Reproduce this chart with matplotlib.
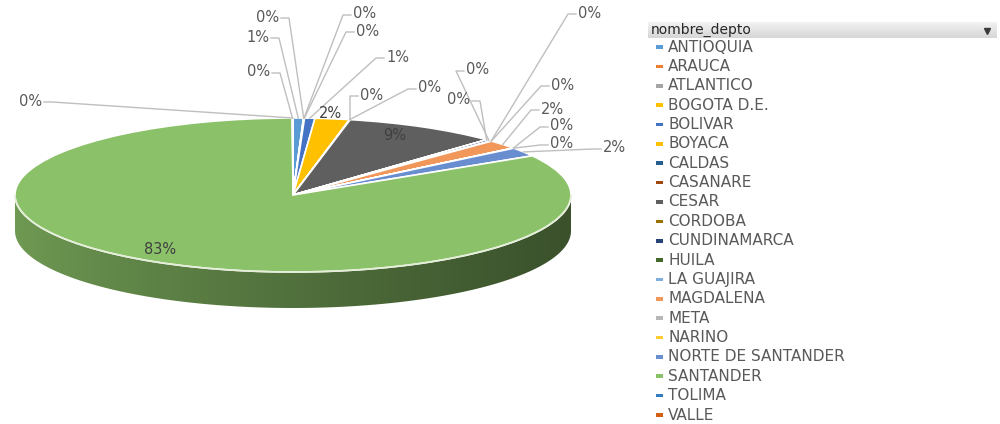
import numpy as np
import matplotlib.pyplot as plt
from matplotlib.patches import Polygon, Rectangle
from matplotlib.colors import to_rgb

deptos = ['ANTIOQUIA', 'ARAUCA', 'ATLANTICO', 'BOGOTA D.E.', 'BOLIVAR', 'BOYACA',
          'CALDAS', 'CASANARE', 'CESAR', 'CORDOBA', 'CUNDINAMARCA', 'HUILA',
          'LA GUAJIRA', 'MAGDALENA', 'META', 'NARINO', 'NORTE DE SANTANDER',
          'SANTANDER', 'TOLIMA', 'VALLE']
porcentaje = [0.60, 0.02, 0.02, 0.02, 0.60, 2.00,
              0.02, 0.02, 8.95, 0.02, 0.35, 0.02,
              0.02, 1.90, 0.02, 0.02, 1.90,
              83.46, 0.02, 0.02]
colores = ['#5B9BD5', '#ED7D31', '#A5A5A5', '#FFC000', '#4472C4', '#FFC000',
           '#255E91', '#9E480E', '#5F5F5F', '#997300', '#264478', '#43682B',
           '#7CAFDD', '#F1975A', '#B7B7B7', '#FFCD33', '#698ED0',
           '#8BC168', '#327DC2', '#D26012']

# label anchors in pixels: (x, y, side)  L = text left of anchor, R = right, C = on the slice
etiquetas_pos = [(269, 37, 'L'), (279, 17, 'L'), (353, 14, 'R'), (356, 31, 'R'),
                 (386, 57, 'R'), (330, 113, 'C'), (418, 88, 'R'), (360, 95, 'R'),
                 (395, 135, 'C'), (470, 100, 'L'), (466, 70, 'R'), (578, 13, 'R'),
                 (551, 85, 'R'), (541, 109, 'R'), (550, 126, 'R'), (550, 144, 'R'),
                 (603, 148, 'R'), (160, 250, 'C'), (270, 72, 'L'), (42, 101, 'L')]

W, H = 1000, 424
CX, CY, RX, RY = 293, 195, 278, 77
DEPTH = 36 / RY

fig = plt.figure(figsize=(W / 100, H / 100), dpi=100)
ax = fig.add_axes([0, 0, 1, 1])
ov = fig.add_axes([0, 0, 1, 1], facecolor='none')

frac = np.array(porcentaje) / np.sum(porcentaje)
fin = np.cumsum(frac) * 360
ini = fin - frac * 360

# side of the cylinder, only the front half shows
for a0, a1, c in zip(ini, fin, colores):
    a, b = max(a0, 90), min(a1, 270)
    if b <= a:
        continue
    t = np.radians(np.linspace(a, b, 120))
    arriba = np.column_stack([np.sin(t), np.cos(t)])
    abajo = np.column_stack([np.sin(t), np.cos(t) - DEPTH])[::-1]
    poly = Polygon(np.vstack([arriba, abajo]), closed=True, transform=ax.transData)
    xs = np.linspace(-1, 1, 400)
    f = 0.80 - 0.38 * ((xs + 1) / 2) ** 0.8
    img = np.array(to_rgb(c))[None, None, :] * f[None, :, None]
    im = ax.imshow(img, extent=(-1, 1, -1 - DEPTH, 0), aspect='auto', zorder=1)
    im.set_clip_path(poly)

wedges, _ = ax.pie(porcentaje, colors=colores, startangle=90, counterclock=False,
                   wedgeprops=dict(edgecolor='white', linewidth=1.2))
for w in wedges:
    w.set_zorder(2)

t = np.radians(np.linspace(90, 270, 200))
ax.plot(np.sin(t), np.cos(t), color='#E4EED8', lw=1.2, zorder=3)

ax.set_aspect('auto')
ax.set_xlim(-CX / RX, (W - CX) / RX)
ax.set_ylim(-(H - CY) / RY, CY / RY)

ov.set_xlim(0, W)
ov.set_ylim(H, 0)

# data labels with leader lines
for a0, a1, v, (lx, ly, lado) in zip(ini, fin, frac, etiquetas_pos):
    txt = '%d%%' % round(v * 100)
    if lado == 'C':
        ov.text(lx, ly, txt, ha='center', va='center', fontsize=10.5, color='#404040')
        continue
    m = np.radians((a0 + a1) / 2)
    ex, ey = CX + RX * np.sin(m), CY - RY * np.cos(m)
    s = 1 if lado == 'L' else -1
    ov.plot([lx + 2 * s, lx + 10 * s, ex], [ly + 1, ly + 1, ey],
            color='#BFBFBF', lw=1, zorder=2)
    ov.text(lx, ly, txt, ha='right' if lado == 'L' else 'left', va='center',
            fontsize=10.5, color='#595959')

# legend box
grad = np.linspace(0.95, 0.84, 20)[:, None, None] * np.ones((1, 2, 3))
ov.imshow(grad, extent=(648, 997, 38, 22), aspect='auto', zorder=1)
ov.text(651, 30, 'nombre_depto', ha='left', va='center', fontsize=10, color='#262626')
ov.plot([987], [31], marker='v', markersize=4.5, color='#3A3A3A')

for i, (nombre, c) in enumerate(zip(deptos, colores)):
    y = 47 + i * 19.37
    ov.add_patch(Rectangle((656, y - 1.8), 7, 3.6, color=c, lw=0))
    ov.text(668, y, nombre, ha='left', va='center', fontsize=11, color='#595959')

ov.set_xlim(0, W)
ov.set_ylim(H, 0)
for a in (ax, ov):
    a.set_frame_on(False)
    a.set_axis_off()

fig.savefig('out.png', dpi=100)
